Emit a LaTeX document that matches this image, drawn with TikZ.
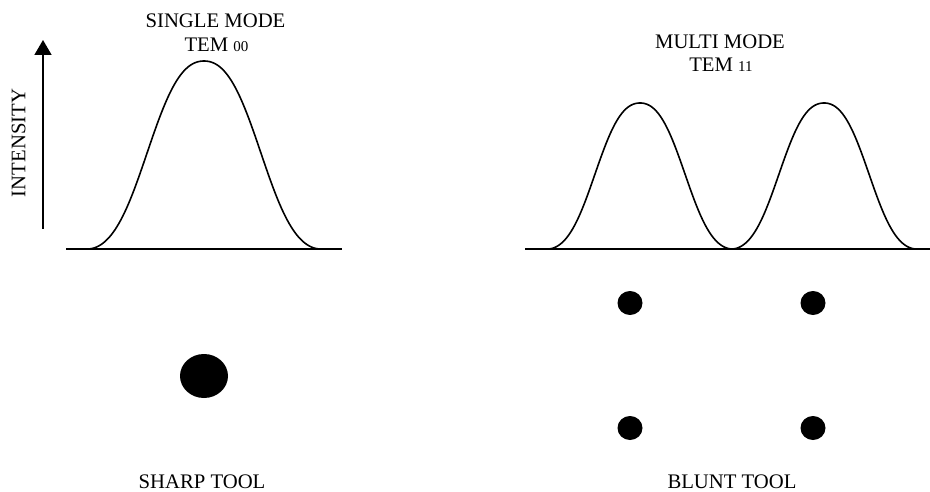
\documentclass[tikz,border=0pt]{standalone}
\usepackage{fontspec}
\setmainfont{Liberation Serif}
\usetikzlibrary{arrows.meta,shapes.geometric}
\begin{document}
\begin{tikzpicture}[x=1pt,y=-1pt,
  lbl/.style={font=\fontsize{20.7}{24}\selectfont,inner sep=0pt,anchor=base},
  curve/.style={line width=1.6pt,line join=round,line cap=round},
  axis/.style={line width=1.6pt},
  bigdot/.style={ellipse,fill=black,inner sep=0pt,minimum width=48pt,minimum height=44pt},
  smalldot/.style={ellipse,fill=black,inner sep=0pt,minimum width=25pt,minimum height=24pt},
  declare function={bump(\t)=0.45*(exp(-5.74*abs(\t)*\t*\t)-0.0032)/0.9968+0.55*(1+cos(180*\t))/2;}]
\useasboundingbox (0,0) rectangle (930,492);
% titles
\node[lbl] (t1) at (215.5,28) {SINGLE MODE};
\node[lbl] (t2) at (216.5,52) {TEM {\fontsize{15}{18}\selectfont 00}};
\node[lbl] (t3) at (720,49) {MULTI MODE};
\node[lbl] (t4) at (721,72) {TEM {\fontsize{15}{18}\selectfont 11}};
% intensity axis
\coordinate (a0) at (43,229);
\coordinate (a1) at (43,40);
\draw[axis,-{Triangle[width=17pt,length=15pt]}] (a0) -- (a1);
\node[lbl,rotate=90,anchor=center] (int) at (18.5,143) {INTENSITY};
% baselines
\coordinate (l0) at (66,249);
\coordinate (l1) at (342,249);
\coordinate (r0) at (525,249);
\coordinate (r1) at (930,249);
\draw[axis] (l0) -- (l1);
\draw[axis] (r0) -- (r1);
% curves
\draw[curve] plot[domain=-1:1,samples=161,smooth] ({204+116*\x},{249-188*bump(\x)});
\draw[curve] plot[domain=-1:1,samples=121,smooth] ({640+92*\x},{249-146*bump(\x)});
\draw[curve] plot[domain=-1:1,samples=121,smooth] ({824+92*\x},{249-146*bump(\x)});
% spots
\node[bigdot] (d0) at (204,376) {};
\node[smalldot] (d1) at (630,303) {};
\node[smalldot] (d2) at (813,303) {};
\node[smalldot] (d3) at (630,428) {};
\node[smalldot] (d4) at (813,428) {};
% bottom labels
\node[lbl] (b1) at (202,488.5) {SHARP TOOL};
\node[lbl] (b2) at (732,488.5) {BLUNT TOOL};
\end{tikzpicture}
\end{document}
